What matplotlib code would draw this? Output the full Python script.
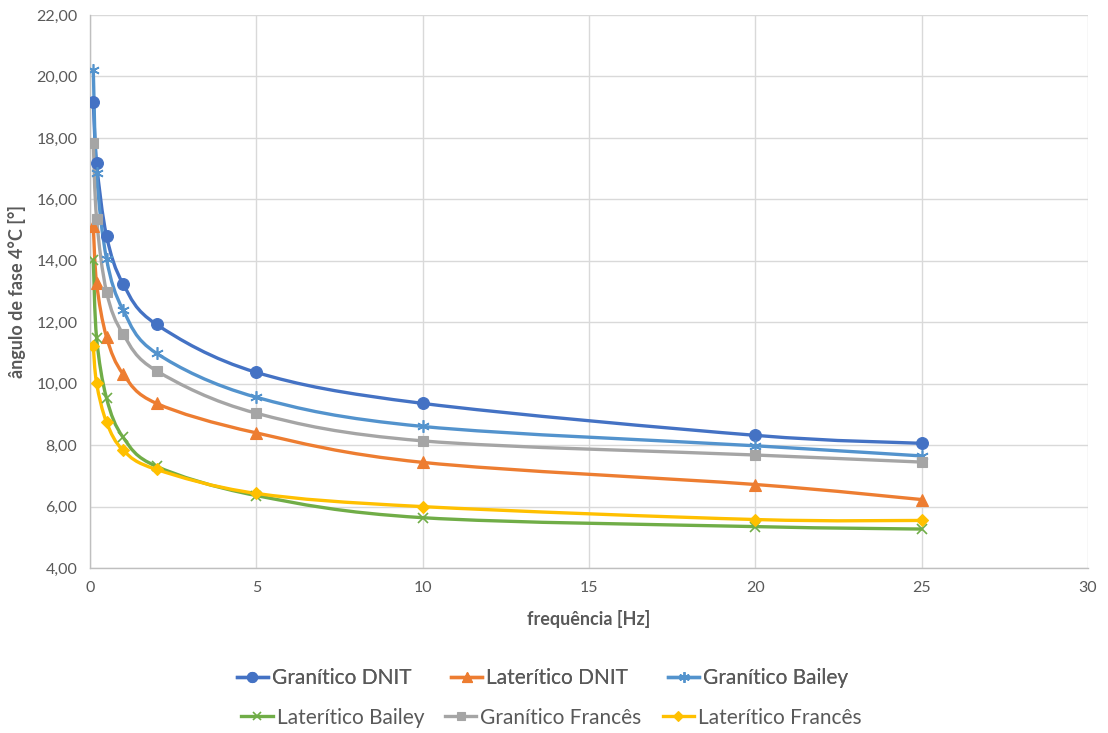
import numpy as np
import matplotlib.pyplot as plt
from matplotlib.path import Path
from matplotlib.patches import PathPatch
from matplotlib.lines import Line2D
from matplotlib.ticker import FuncFormatter

plt.rcParams['font.family'] = ['Lato', 'DejaVu Sans']

# frequency [Hz]
freq = [0.1, 0.2, 0.5, 1, 2, 5, 10, 20, 25]

# phase angle at 4 C [deg]
gran_dnit = [19.17, 17.18, 14.80, 13.24, 11.93, 10.37, 9.36, 8.32, 8.06]
late_dnit = [15.13, 13.27, 11.51, 10.31, 9.36, 8.40, 7.44, 6.72, 6.23]
gran_bailey = [20.21, 16.85, 14.05, 12.39, 10.99, 9.56, 8.61, 7.98, 7.65]
late_bailey = [14.02, 11.48, 9.52, 8.25, 7.31, 6.36, 5.64, 5.35, 5.27]
gran_frances = [17.83, 15.36, 12.98, 11.61, 10.42, 9.04, 8.14, 7.68, 7.45]
late_frances = [11.22, 10.01, 8.74, 7.83, 7.21, 6.43, 6.00, 5.58, 5.55]

series = [
    ("Granítico DNIT", gran_dnit, "#4472C4", "o", 8.5),
    ("Laterítico DNIT", late_dnit, "#ED7D31", "^", 8),
    ("Granítico Bailey", gran_bailey, "#5393CD", (6, 2, 0), 9),
    ("Laterítico Bailey", late_bailey, "#70AD47", "x", 7),
    ("Granítico Francês", gran_frances, "#A5A5A5", "s", 7.5),
    ("Laterítico Francês", late_frances, "#FFC000", "D", 6.5),
]


def smooth_path(x, y):
    # Excel-style smoothed line: cubic bezier through the points
    p = np.column_stack([x, y]).astype(float)
    n = len(p)
    verts = [p[0]]
    codes = [Path.MOVETO]
    for i in range(n - 1):
        p0 = p[i - 1] if i > 0 else p[i]
        p3 = p[i + 2] if i + 2 < n else p[i + 1]
        c1 = p[i] + (p[i + 1] - p0) / 6.0
        c2 = p[i + 1] - (p3 - p[i]) / 6.0
        verts += [c1, c2, p[i + 1]]
        codes += [Path.CURVE4] * 3
    return Path(verts, codes)


fig = plt.figure(figsize=(11.08, 7.33), dpi=100)
ax = fig.add_axes([0.0812, 0.225, 0.9008, 0.7545])

handles = []
for name, vals, col, mk, ms in series:
    patch = PathPatch(smooth_path(freq, vals), facecolor='none', edgecolor=col,
                      lw=2.4, capstyle='round', joinstyle='round', zorder=3)
    ax.add_patch(patch)
    mew = 1.2 if mk in ("x",) or isinstance(mk, tuple) else 0.8
    ax.plot(freq, vals, linestyle='none', marker=mk, markersize=ms, color=col,
            markeredgecolor=col, markeredgewidth=mew, zorder=4)
    handles.append(Line2D([], [], color=col, lw=2.4, marker=mk, markersize=ms * 0.85,
                          markeredgewidth=mew, label=name))

ax.set_xlim(0, 30)
ax.set_ylim(4, 22)
ax.set_xticks(np.arange(0, 31, 5))
ax.set_yticks(np.arange(4, 23, 2))
ax.yaxis.set_major_formatter(FuncFormatter(lambda v, _: f"{v:.2f}".replace('.', ',')))
ax.grid(True, color='#D9D9D9', lw=1)
ax.set_axisbelow(True)
for s in ['top', 'right']:
    ax.spines[s].set_visible(False)
for s in ['left', 'bottom']:
    ax.spines[s].set_color('#BFBFBF')
    ax.spines[s].set_linewidth(1)
ax.tick_params(length=0, labelsize=11.5, labelcolor='#595959', pad=9)

ax.set_xlabel('frequência [Hz]', fontsize=13, fontweight='bold', color='#595959', labelpad=11)
ax.set_ylabel('ângulo de fase 4°C [°]', fontsize=13, fontweight='bold', color='#595959', labelpad=7)

leg_kw = dict(ncol=3, frameon=False, fontsize=15, handlelength=1.5, handletextpad=0.2,
              labelcolor='#595959')
leg1 = fig.legend(handles=handles[:3], loc='center', bbox_to_anchor=(0.4896, 0.075),
                  columnspacing=1.9, **leg_kw)
fig.add_artist(leg1)
fig.legend(handles=handles[3:], loc='center', bbox_to_anchor=(0.4977, 0.021),
           columnspacing=1.0, **leg_kw)

fig.savefig('out.png', dpi=100)
